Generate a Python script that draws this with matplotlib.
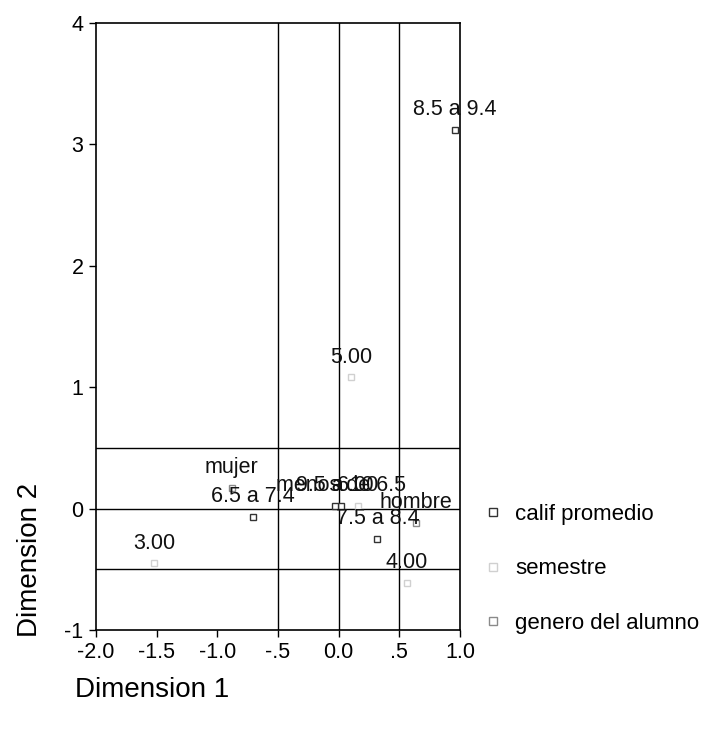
import matplotlib
matplotlib.use("Agg")
import matplotlib.pyplot as plt

plt.rcParams['font.family'] = ['Liberation Sans', 'DejaVu Sans']

# calif promedio
calif_labels = ["menos de 6.5", "6.5 a 7.4", "7.5 a 8.4", "8.5 a 9.4", "9.5 a 10"]
calif_x = [0.02, -0.71, 0.32, 0.96, -0.03]
calif_y = [0.02, -0.07, -0.25, 3.12, 0.02]

# semestre
sem_labels = ["3.00", "4.00", "5.00", "6.00"]
sem_x = [-1.52, 0.56, 0.10, 0.16]
sem_y = [-0.45, -0.61, 1.08, 0.02]

# genero del alumno
gen_labels = ["mujer", "hombre"]
gen_x = [-0.88, 0.64]
gen_y = [0.17, -0.12]

xticks = [-2.0, -1.5, -1.0, -0.5, 0.0, 0.5, 1.0]
xtick_labels = ["-2.0", "-1.5", "-1.0", "-.5", "0.0", ".5", "1.0"]
yticks = [-1, 0, 1, 2, 3, 4]
ytick_labels = ["-1", "0", "1", "2", "3", "4"]

fig = plt.figure(figsize=(7.1, 7.36), dpi=100)
ax = fig.add_axes([96/710, 1-630/736, (460-96)/710, (630-23)/736])

for v in [-0.5, 0.0, 0.5]:
    ax.axvline(v, color='black', lw=1.0, zorder=1)
    ax.axhline(v, color='black', lw=1.0, zorder=1)

series = [
    (calif_x, calif_y, calif_labels, '#333333', 'calif promedio'),
    (sem_x, sem_y, sem_labels, '#d0d0d0', 'semestre'),
    (gen_x, gen_y, gen_labels, '#8a8a8a', 'genero del alumno'),
]
handles = []
for xs, ys, labs, col, name in series:
    h, = ax.plot(xs, ys, ls='none', marker='s', ms=5, mfc='white',
                 mec=col, mew=1.0, label=name, zorder=3)
    handles.append(h)
    for x, y, t in zip(xs, ys, labs):
        ax.annotate(t, (x, y), xytext=(0, 7), textcoords='offset points',
                    ha='center', va='bottom', fontsize=15.5, color='#111111',
                    zorder=4)

ax.set_xlim(-2.0, 1.0)
ax.set_ylim(-1.0, 4.0)
ax.set_xticks(xticks)
ax.set_xticklabels(xtick_labels)
ax.set_yticks(yticks)
ax.set_yticklabels(ytick_labels)
ax.tick_params(direction='out', length=5, width=1, labelsize=15.5, pad=4)
for s in ax.spines.values():
    s.set_linewidth(1.2)

fig.text(75/710, 1-690/736, "Dimension 1", fontsize=20, ha='left', va='center')
fig.text(30/710, 1-560/736, "Dimension 2", fontsize=20, rotation=90,
         ha='center', va='center')

fig.legend(handles=handles, loc='upper left',
           bbox_to_anchor=(462/710, 1-484/736), frameon=False,
           fontsize=16, labelspacing=1.5, handlelength=1.0,
           handletextpad=0.5, markerscale=1.2)

fig.savefig("out.png", dpi=100)
